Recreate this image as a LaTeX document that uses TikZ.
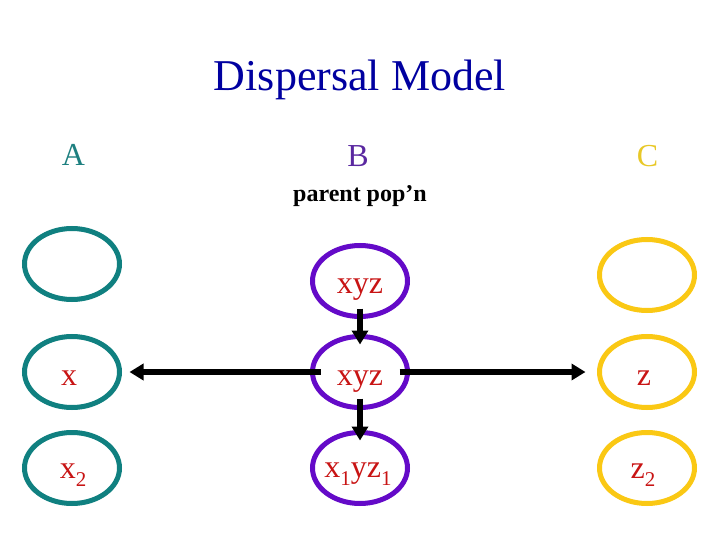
\documentclass[tikz,border=0pt]{standalone}
\usepackage{fontspec}
\setmainfont{Liberation Serif}
\usetikzlibrary{shapes.geometric,arrows.meta,calc}
\definecolor{tealc}{RGB}{16,128,128}
\definecolor{purplec}{RGB}{100,10,200}
\definecolor{yellowc}{RGB}{250,200,20}
\definecolor{titleblue}{RGB}{0,0,160}
\definecolor{lblred}{RGB}{200,20,20}
\definecolor{Atext}{RGB}{30,128,128}
\definecolor{Btext}{RGB}{90,40,160}
\definecolor{Ctext}{RGB}{232,200,40}
\newcommand{\lowsub}[1]{\raisebox{-8pt}{\fontsize{21}{21}\selectfont #1}}
\begin{document}
\begin{tikzpicture}[x=1pt,y=-1pt,
  pop/.style={draw, ellipse, line width=5pt, minimum width=95pt, minimum height=71pt, inner sep=0pt},
  lbl/.style={anchor=base, inner sep=0pt, font=\fontsize{32}{32}\selectfont, text=lblred},
  head/.style={anchor=base, inner sep=0pt, font=\fontsize{32}{32}\selectfont},
  arr/.style={line width=6pt, -{Triangle[length=14pt,width=16pt]}}]
\useasboundingbox (0,0) rectangle (720,540);
\node[anchor=base, inner sep=0pt, font=\fontsize{44}{44}\selectfont, text=titleblue] (title) at (360,91) {Dispersal Model};
\node[head, text=Atext] (hA) at (73.5,166) {A};
\node[head, text=Btext] (hB) at (358,167) {B};
\node[head, text=Ctext] (hC) at (647.5,167) {C};
\node[anchor=base, inner sep=0pt, font=\fontsize{24}{24}\selectfont\bfseries] (parent) at (360,202) {parent pop’n};
% ellipses
\node[pop, draw=tealc] (At) at (72,264) {};
\node[pop, draw=tealc] (Am) at (72,372) {};
\node[pop, draw=tealc] (Ab) at (72,468) {};
\node[pop, draw=purplec] (Bt) at (360,281) {};
\node[pop, draw=purplec] (Bm) at (360,372) {};
\node[pop, draw=purplec] (Bb) at (360,468) {};
\node[pop, draw=yellowc] (Ct) at (647,275) {};
\node[pop, draw=yellowc] (Cm) at (647,372) {};
\node[pop, draw=yellowc] (Cb) at (647,468) {};
% labels
\node[lbl] (tAm) at (69,385) {x};
\node[lbl] (tAb) at (73,478) {x\lowsub{2}};
\node[lbl] (tBt) at (360,293) {xyz};
\node[lbl] (tBm) at (360,385) {xyz};
\node[lbl] (tBb) at (358,477) {x\lowsub{1}yz\lowsub{1}};
\node[lbl] (tCm) at (644,385) {z};
\node[lbl] (tCb) at (643,478) {z\lowsub{2}};
% arrows
\draw[arr] ([yshift=10.5pt]Bt.south) -- ([yshift=-10.5pt]Bm.north);
\draw[arr] ([yshift=11.5pt]Bm.south) -- ([yshift=-10.5pt]Bb.north);
\draw[arr] ([xshift=10.5pt]Bm.west) -- ([xshift=7.5pt]Am.east);
\draw[arr] ([xshift=-10.5pt]Bm.east) -- ([xshift=-11.5pt]Cm.west);
\end{tikzpicture}
\end{document}
